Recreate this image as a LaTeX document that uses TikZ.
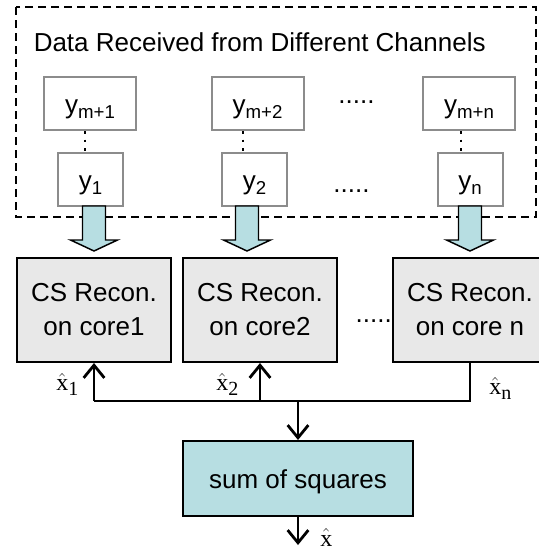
\documentclass[tikz,border=0pt]{standalone}
\usepackage[no-math]{fontspec}
\setmainfont{Liberation Sans}
\newfontfamily\serif{Liberation Serif}
\usepackage{tikz}
\usetikzlibrary{calc,arrows.meta}
\definecolor{chan}{HTML}{B7DEE2}
\definecolor{core}{HTML}{E8E8E8}
\definecolor{rim}{HTML}{8C8C8C}
\newcommand{\mainsize}{\fontsize{19.5pt}{25.5pt}\selectfont}
\newcommand{\ysub}[1]{y\raisebox{-4pt}{\fontsize{14pt}{14pt}\selectfont #1}}
\newcommand{\xsub}[1]{$\hat{\hbox{x}}$\raisebox{-3.6pt}{\fontsize{15pt}{15pt}\selectfont #1}}
\tikzset{
  frame/.style={draw=black, line width=1.5pt, dash pattern=on 6pt off 3.75pt},
  ybox/.style={draw=rim, fill=white, line width=1.5pt, minimum height=39.75pt, inner sep=0pt,
    text height=16pt, text depth=1.5pt, font=\mainsize},
  ytop/.style={ybox, minimum width=69pt},
  ylow/.style={ybox, minimum width=48.75pt},
  csbox/.style={draw=black, fill=core, line width=1.5pt, minimum width=115.5pt, minimum height=78pt,
    inner sep=0pt, align=center, font=\mainsize},
  sumbox/.style={draw=black, fill=chan, line width=1.5pt, minimum width=172.5pt, minimum height=56.25pt,
    inner sep=0pt, text height=18.5pt, text depth=4pt, font=\mainsize},
  blk/.style={draw=black, fill=chan, line width=1.1pt, line join=miter},
  wire/.style={draw=black, line width=2.1pt},
  tip/.style={-{Straight Barb[length=9.5pt, width=15.5pt]}},
  hidots/.style={draw=black, line width=2.2pt, dash pattern=on 2.2pt off 4.2pt},
  dots/.style={font=\mainsize, inner sep=0pt},
  labx/.style={font=\serif\fontsize{18pt}{18pt}\selectfont, anchor=base west, inner sep=0pt}
}
\newcommand{\ChanArrowAt}[1]{%
  \draw[blk] ($(#1)+(-11.5,0)$) -- ++(0,34) -- ++(-12,0) -- ++(23.5,11)
    -- ++(23.5,-11) -- ++(-12,0) -- ++(0,-34) -- cycle;
}
\begin{document}
\begin{tikzpicture}[x=0.75pt, y=-0.75pt]
  \useasboundingbox (0,0) rectangle (539,550);

  \draw[frame] (16,7) rectangle (536,217);
  \node[font=\mainsize, anchor=base west, inner sep=0pt] (title) at (33.5,51) {Data Received from Different Channels};

  \node[ytop] (ym1) at (90,103.5) {\ysub{m+1}};
  \node[ytop] (ym2) at (257.5,103.5) {\ysub{m+2}};
  \node[ytop] (ymn) at (469,103.5) {\ysub{m+n}};
  \node[ylow] (y1) at (90.5,179.5) {\ysub{1}};
  \node[ylow] (y2) at (254.5,179.5) {\ysub{2}};
  \node[ylow] (yn) at (470,179.5) {\ysub{n}};
  \node[dots] (dt1) at (356.5,102) {.....};
  \node[dots] (dt2) at (351.5,191) {.....};

  \draw[hidots] ($(ym1.south)+(-5,0)$) -- ($(y1.north)+(-5.5,0)$);
  \draw[hidots] ($(ym2.south)+(-14.5,0)$) -- ($(y2.north)+(-11.5,0)$);
  \draw[hidots] ($(ymn.south)+(-8,0)$) -- ($(yn.north)+(-9,0)$);

  \node[csbox] (cs1) at (94,310) {CS Recon.\\on core1};
  \node[csbox] (cs2) at (260,310) {CS Recon.\\on core2};
  \node[csbox] (csn) at (470,310) {CS Recon.\\on core n};
  \node[dots, anchor=east] (dt3) at (csn.west |- 0,321) {.....};

  % channel data goes down into the cores
  \coordinate (a1) at (94,206);
  \coordinate (a2) at (247,206);
  \coordinate (an) at (470,206);
  \ChanArrowAt{a1}
  \ChanArrowAt{a2}
  \ChanArrowAt{an}

  \node[sumbox] (sum) at (298,478.5) {sum of squares};
  \coordinate (bus) at (0,401);
  \coordinate (out) at (298,545);

  \draw[wire] (cs1.south |- bus) -- (csn.south |- bus) -- (csn.south);
  \draw[wire, tip] (cs1.south |- bus) -- (cs1.south);
  \draw[wire, tip] (cs2.south |- bus) -- (cs2.south);
  \draw[wire, tip] (sum.north |- bus) -- (sum.north);
  \draw[wire, tip] (sum.south) -- (out);

  \node[labx] (xh1) at (56,390.5) {\xsub{1}};
  \node[labx] (xh2) at (216,390.5) {\xsub{2}};
  \node[labx] (xhn) at (489,394.5) {\xsub{n}};
  \node[labx] (xh) at (320,546) {$\hat{\hbox{x}}$};
\end{tikzpicture}
\end{document}
